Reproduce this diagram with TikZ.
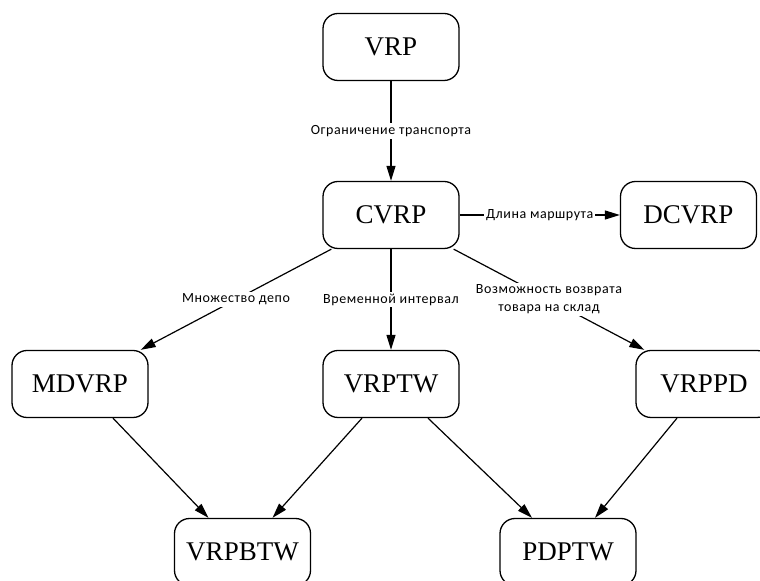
\documentclass[tikz,border=0pt]{standalone}
\usepackage{fontspec}
\setmainfont{Liberation Serif}
\newfontfamily\podpisfont[LetterSpace=4]{Carlito}
\usepackage{tikz}
\usetikzlibrary{arrows.meta}
\tikzset{
  zadacha/.style={draw, line width=0.65pt, rounded corners=7.5pt, fill=white, align=center, minimum width=68pt, minimum height=33.5pt, inner sep=0pt, font=\fontsize{13.5}{15}\selectfont},
  strelka/.style={-{Triangle[length=7.5pt, width=4.5pt]}, line width=0.6pt},
  metka/.style={fill=white, inner sep=1pt, align=center, font=\podpisfont\fontsize{7}{9}\selectfont},
}

\begin{document}
\begin{tikzpicture}[x=0.5pt, y=-0.5pt]
  \useasboundingbox (0,0) rectangle (760,581);
  \node[zadacha] (vrp) at (391,47) {VRP};
  \node[zadacha] (cvrp) at (391,215) {CVRP};
  \node[zadacha] (dcvrp) at (688.5,215) {DCVRP};
  \node[zadacha] (mdvrp) at (80,384) {MDVRP};
  \node[zadacha] (vrptw) at (391,384) {VRPTW};
  \node[zadacha] (vrppd) at (704,384) {VRPPD};
  \node[zadacha] (vrpbtw) at (242.5,552) {VRPBTW};
  \node[zadacha] (pdptw) at (568,552) {PDPTW};

  \draw[strelka] (vrp) -- node[metka]{Ограничение транспорта} (cvrp);
  \draw[strelka] (cvrp) -- node[metka]{Длина маршрута} (dcvrp);
  \draw[strelka] ([xshift=4.5pt]cvrp.south west) -- node[metka]{Множество депо} ([xshift=-4pt]mdvrp.north east);
  \draw[strelka] (cvrp) -- node[metka]{Временной интервал} (vrptw);
  \draw[strelka] ([xshift=-3pt]cvrp.south east) -- node[metka]{Возможность возврата\\товара на склад} ([xshift=4.5pt]vrppd.north west);
  \draw[strelka] ([xshift=16.5pt]mdvrp.south) -- ([xshift=-17pt]vrpbtw.north);
  \draw[strelka] ([xshift=-14.5pt]vrptw.south) -- ([xshift=15pt]vrpbtw.north);
  \draw[strelka] ([xshift=18.5pt]vrptw.south) -- ([xshift=-18pt]pdptw.north);
  \draw[strelka] ([xshift=-13.5pt]vrppd.south) -- ([xshift=13.5pt]pdptw.north);
\end{tikzpicture}
\end{document}
